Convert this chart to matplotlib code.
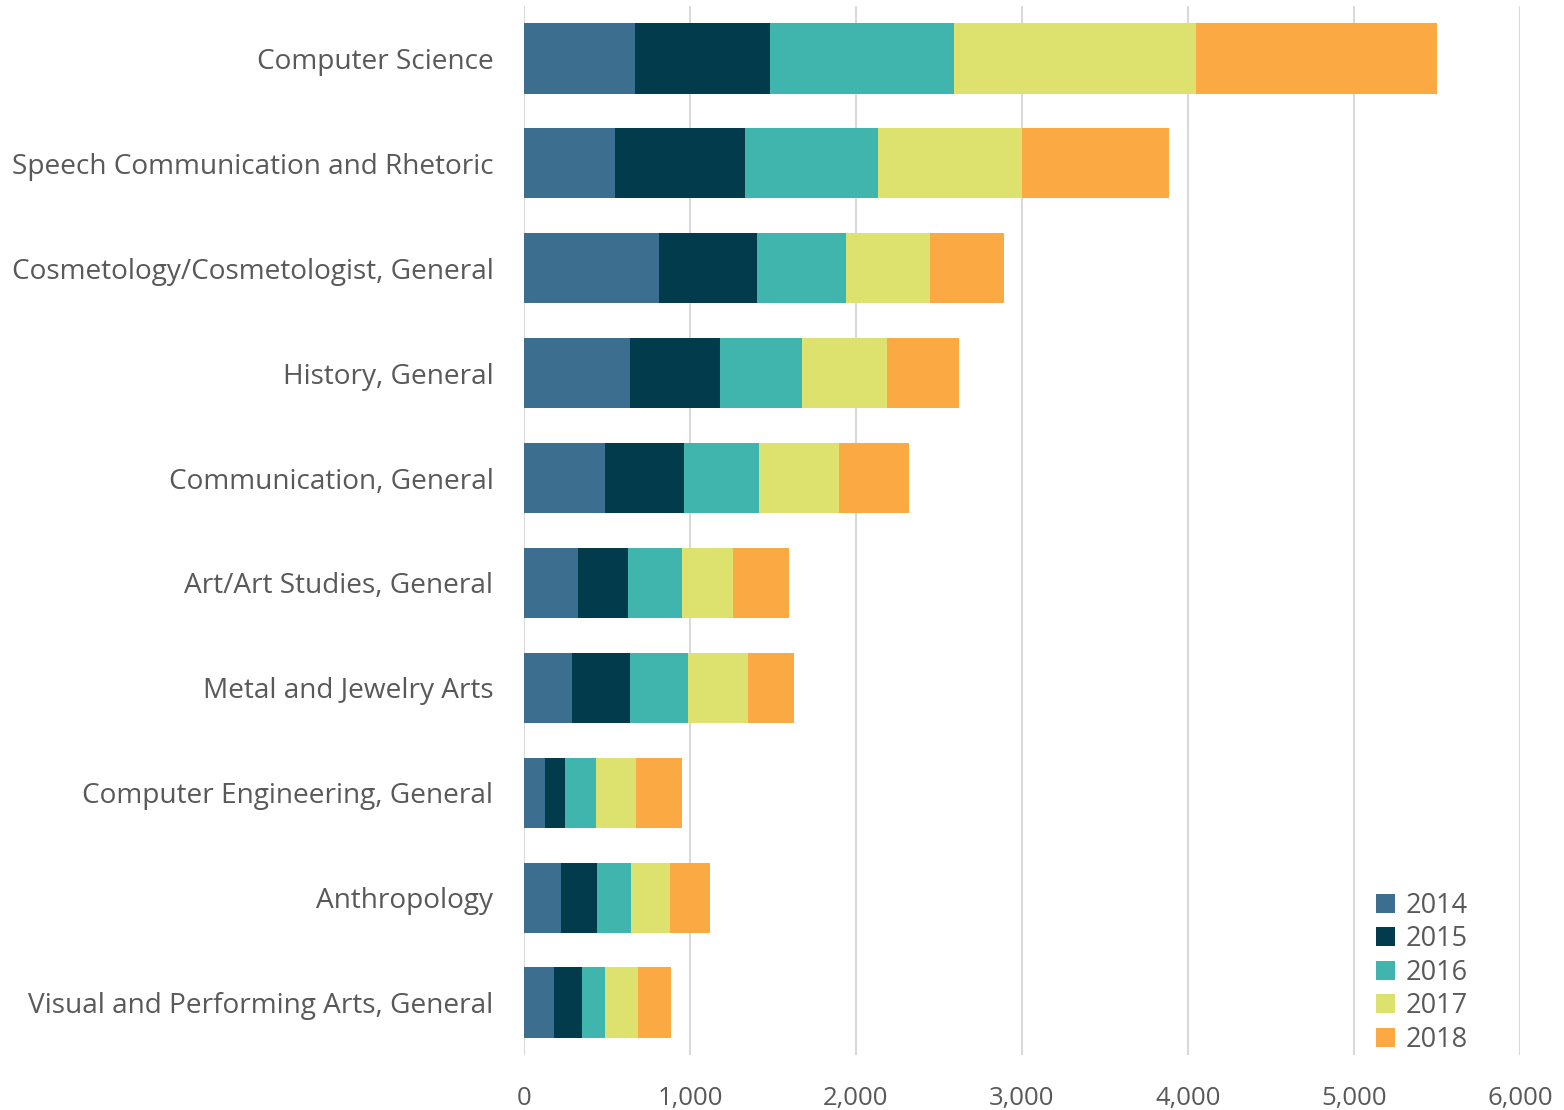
import matplotlib.pyplot as plt
import numpy as np

plt.rcParams['font.family'] = ['Open Sans', 'DejaVu Sans']

categorias = ["Computer Science", "Speech Communication and Rhetoric",
              "Cosmetology/Cosmetologist, General", "History, General",
              "Communication, General", "Art/Art Studies, General",
              "Metal and Jewelry Arts", "Computer Engineering, General",
              "Anthropology", "Visual and Performing Arts, General"]
anos = ["2014", "2015", "2016", "2017", "2018"]

v2014 = [669, 548, 813, 639, 488, 325, 289, 127, 223, 181]
v2015 = [813, 783, 591, 542, 476, 302, 350, 120, 217, 168]
v2016 = [1108, 802, 536, 494, 452, 325, 349, 187, 205, 139]
v2017 = [1458, 867, 506, 512, 482, 307, 361, 241, 235, 199]
v2018 = [1452, 886, 446, 433, 421, 337, 278, 277, 240, 199]

cores = ["#3C6E8F", "#023B4B", "#40B5AE", "#DDE26F", "#FBA943"]
cinza = "#595959"

fig = plt.figure(figsize=(15.64, 11.1), dpi=100)
ax = fig.add_axes([524 / 1564, 1 - 1055 / 1110, (1520 - 524) / 1564, (1055 - 6) / 1110])

y = np.arange(len(categorias))
esquerda = np.zeros(len(categorias))
for ano, valores, cor in zip(anos, [v2014, v2015, v2016, v2017, v2018], cores):
    ax.barh(y, valores, left=esquerda, height=0.67, color=cor, label=ano, zorder=3)
    esquerda += np.array(valores)

ax.set_ylim(len(categorias) - 0.5, -0.5)
ax.set_xlim(0, 6000)
ax.set_xticks(range(0, 6001, 1000))
ax.set_xticklabels([f"{t:,}" for t in range(0, 6001, 1000)])
ax.set_yticks(y)
ax.set_yticklabels(categorias)
ax.tick_params(axis='y', length=0, pad=22, labelsize=20.2, labelcolor=cinza)
ax.tick_params(axis='x', length=0, pad=22, labelsize=18.5, labelcolor=cinza)
ax.grid(axis='x', color="#D9D9D9", linewidth=1.5, zorder=0)
for s in ax.spines.values():
    s.set_visible(False)

leg = ax.legend(loc='lower right', bbox_to_anchor=(0.972, -0.022), frameon=False,
                fontsize=19.5, handlelength=0.7, handleheight=0.7,
                labelspacing=0.2, handletextpad=0.4)
for t in leg.get_texts():
    t.set_color(cinza)

fig.savefig("out.png", dpi=100)
